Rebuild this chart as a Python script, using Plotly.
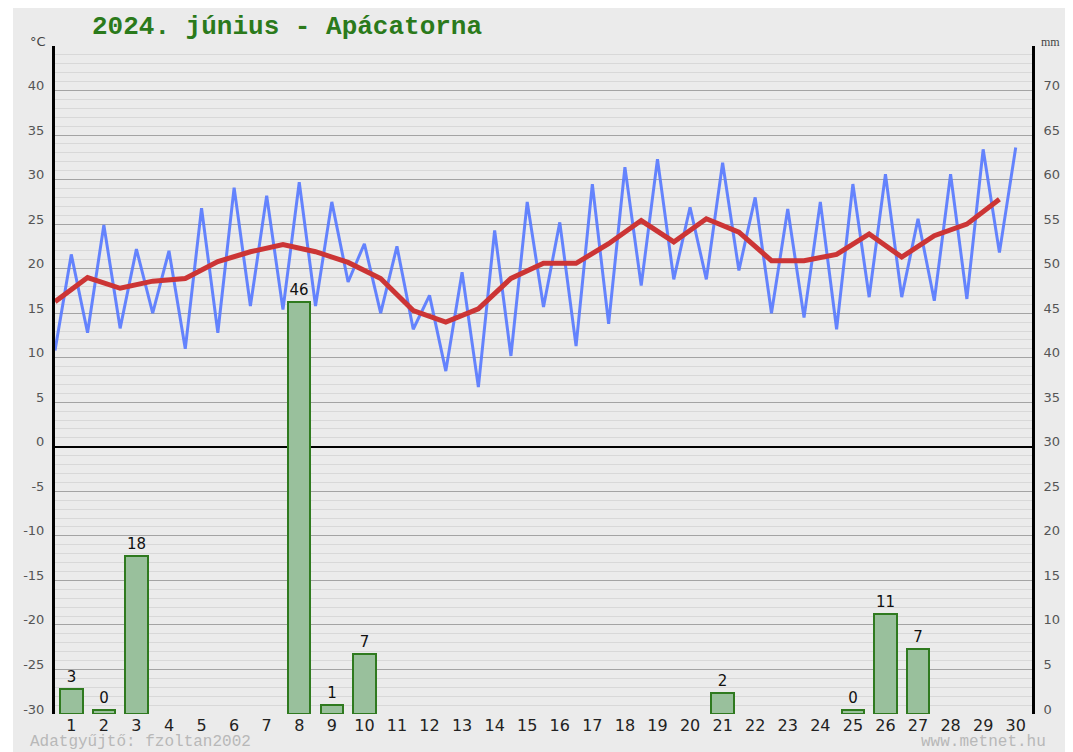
import plotly.graph_objects as go

# ---- data ----
days = list(range(1, 31))
day_labels = [str(d) for d in days]
tmin = [10.8, 12.8, 13.3, 15.0, 11.0, 12.8, 15.8, 15.4, 15.8, 18.5,
        15.0, 13.2, 8.5, 6.7, 10.2, 15.7, 11.3, 13.8, 18.1, 18.8,
        18.8, 19.8, 15.0, 14.5, 13.2, 16.8, 16.8, 16.4, 16.6, 21.8]
tmax = [21.6, 24.9, 22.2, 22.0, 26.8, 29.1, 28.2, 29.7, 27.5, 22.8,
        22.5, 17.0, 19.6, 24.3, 27.5, 25.2, 29.5, 31.4, 32.3, 26.9,
        31.9, 28.0, 26.7, 27.5, 29.5, 30.6, 25.6, 30.6, 33.4, 33.6]
tmean = [16.3, 19.0, 17.8, 18.6, 18.9, 20.8, 21.9, 22.7, 21.9, 20.7,
         18.9, 15.3, 14.0, 15.5, 18.9, 20.6, 20.6, 22.8, 25.4, 23.0,
         25.6, 24.1, 20.9, 20.9, 21.6, 23.9, 21.3, 23.7, 25.0, 27.8]
precip = [2.8, 0.45, 17.7, None, None, None, None, 46.3, 1.0, 6.7,
          None, None, None, None, None, None, None, None, None, None,
          2.4, None, None, None, 0.45, 11.2, 7.3, None, None, None]
temp_ticks = list(range(-30, 46, 5))
temp_ticktext = [str(v) if v < 45 else "" for v in temp_ticks]
mm_ticks = list(range(0, 76, 5))
mm_ticktext = [str(v) if v < 75 else "" for v in mm_ticks]
title_text = "2024. június - Apácatorna"
footer_left = "Adatgyűjtő: fzoltan2002"
footer_right = "www.metnet.hu"

# ---- derived ----
zig_x, zig_y = [], []
for d, lo, hi in zip(days, tmin, tmax):
    zig_x += [d, d + 0.5]
    zig_y += [lo, hi]
bar_x = [d + 0.5 for d in days]
bar_text = ["" if v is None else str(round(v)) for v in precip]

fig = go.Figure()
fig.add_trace(go.Bar(
    x=bar_x, y=precip, yaxis="y2", width=0.69,
    marker=dict(color="#99c09c", line=dict(color="#2f7a1f", width=2)),
    text=bar_text, textposition="outside", constraintext="none",
    textfont=dict(family="DejaVu Sans", size=15, color="#111"),
    cliponaxis=False, showlegend=False,
))
fig.add_trace(go.Scatter(
    x=zig_x, y=zig_y, mode="lines",
    line=dict(color="rgba(85,120,255,0.9)", width=3),
    showlegend=False,
))
fig.add_trace(go.Scatter(
    x=days, y=tmean, mode="lines",
    line=dict(color="#cc3535", width=5),
    showlegend=False,
))

# page body adds an 8px margin; work in screen coordinates
OFF = 8
W, H = 1073 - OFF, 752 - OFF
SL, SR, ST, SB = 55, 1032, 46, 714      # plot area on screen
L, T = SL - OFF, ST - OFF
R, B = W - (SR - OFF), H - (SB - OFF)
pw, ph = W - L - R, H - T - B

def px(x):
    return (x - OFF - L) / pw

def py(y):
    return (H - B - (y - OFF)) / ph

fig.update_layout(
    width=W, height=H,
    margin=dict(l=L, r=R, t=T, b=B, pad=0),
    paper_bgcolor="white", plot_bgcolor="#ebebeb",
    bargap=0,
    xaxis=dict(range=[1, 31], showgrid=False, zeroline=False, showline=False,
               tickmode="array", tickvals=bar_x, ticktext=day_labels,
               ticks="", tickfont=dict(family="DejaVu Sans", size=16, color="#222")),
    yaxis=dict(range=[-30, 45], tickmode="array", tickvals=temp_ticks, ticktext=temp_ticktext,
               showgrid=True, gridcolor="#a3a3a3", gridwidth=1,
               minor=dict(tickmode="linear", tick0=-30, dtick=1, showgrid=True,
                          gridcolor="#d8d8d8", gridwidth=1),
               zeroline=True, zerolinecolor="black", zerolinewidth=2,
               showline=True, linecolor="black", linewidth=3,
               ticks="", ticklabelstandoff=5, ticklabelshift=-5,
               tickfont=dict(family="DejaVu Sans", size=13, color="#555")),
    yaxis2=dict(range=[0, 75], overlaying="y", side="right",
                tickmode="array", tickvals=mm_ticks, ticktext=mm_ticktext,
                showgrid=False, zeroline=False,
                showline=True, linecolor="black", linewidth=3,
                ticks="", ticklabelstandoff=6, ticklabelshift=-5,
                tickfont=dict(family="DejaVu Sans", size=13, color="#555")),
    shapes=[dict(type="rect", xref="paper", yref="paper",
                 x0=px(13), x1=px(1073 + 20), y0=py(752 + 20), y1=py(-20),
                 fillcolor="#ebebeb", line=dict(width=0), layer="below")],
    annotations=[
        dict(text=title_text, xref="paper", yref="paper", x=px(90), y=py(27),
             xanchor="left", yanchor="middle", showarrow=False,
             font=dict(family="Liberation Mono", size=26, color="#2b7a1b", weight="bold")),
        dict(text="°C", xref="paper", yref="paper", x=px(28), y=py(41),
             xanchor="left", yanchor="middle", showarrow=False,
             font=dict(family="DejaVu Sans", size=13, color="#444")),
        dict(text="mm", xref="paper", yref="paper", x=px(1039), y=py(42),
             xanchor="left", yanchor="middle", showarrow=False,
             font=dict(family="Liberation Serif", size=12, color="#444")),
        dict(text=footer_left, xref="paper", yref="paper", x=px(28), y=py(742),
             xanchor="left", yanchor="middle", showarrow=False,
             font=dict(family="Liberation Mono", size=16, color="#b8b8b8")),
        dict(text=footer_right, xref="paper", yref="paper", x=px(1048), y=py(742),
             xanchor="right", yanchor="middle", showarrow=False,
             font=dict(family="Liberation Mono", size=16, color="#b8b8b8")),
    ],
)

fig.write_html("out.html")
